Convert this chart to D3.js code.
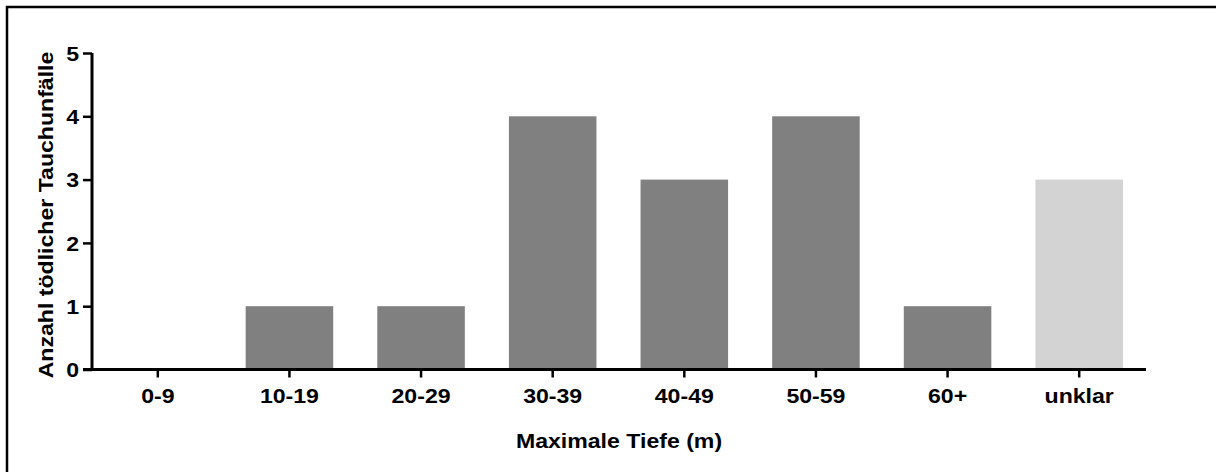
<!DOCTYPE html>
<html>
<head>
<meta charset="utf-8">
<script src="https://cdn.jsdelivr.net/npm/d3@7"></script>
<style>
  html, body { margin: 0; padding: 0; background: #fff; }
  svg { display: block; }
  text { font-family: "Liberation Sans", Arial, sans-serif; font-weight: bold; fill: #000; }
</style>
</head>
<body>
<svg id="chart" width="1216" height="472"></svg>
<script>
// Fatal diving accidents by maximum depth
const categories = ["0-9", "10-19", "20-29", "30-39", "40-49", "50-59", "60+", "unklar"];
const counts = [0, 1, 1, 4, 3, 4, 1, 3];
const barColors = ["#808080", "#808080", "#808080", "#808080", "#808080", "#808080", "#808080", "#d3d3d3"];
const yTicks = [0, 1, 2, 3, 4, 5];
const xTitle = "Maximale Tiefe (m)";
const yTitle = "Anzahl tödlicher Tauchunfälle";

const svg = d3.select("#chart");
const fontSize = 21;
const stretch = 1.1; // horizontal widening of the lettering

// frame lines (top and left)
svg.append("line").attr("x1", 6).attr("x2", 1216).attr("y1", 7).attr("y2", 7)
  .attr("stroke", "#000").attr("stroke-width", 2.5);
svg.append("line").attr("x1", 7).attr("x2", 7).attr("y1", 6).attr("y2", 472)
  .attr("stroke", "#000").attr("stroke-width", 2.5);

const x = d3.scaleBand().domain(categories).range([92, 1145])
  .paddingInner(0.335).paddingOuter(0.1675);
const y = d3.scaleLinear().domain([0, 5]).range([369.5, 53]);

// bars
svg.append("g").selectAll("rect").data(categories).join("rect")
  .attr("x", d => x(d))
  .attr("width", x.bandwidth())
  .attr("y", (d, i) => y(counts[i]))
  .attr("height", (d, i) => y(0) - y(counts[i]))
  .attr("fill", (d, i) => barColors[i]);

// y axis
const yAxis = svg.append("g").attr("transform", "translate(92,0)")
  .call(d3.axisLeft(y).tickValues(yTicks).tickFormat(d3.format("d")).tickSize(9).tickPadding(4));
yAxis.select(".domain").attr("d", `M0,${y(5)}V${y(0)}`).attr("stroke-width", 3);
yAxis.selectAll(".tick line").attr("stroke-width", 2.5);
yAxis.selectAll(".tick text")
  .attr("font-size", fontSize)
  .attr("dy", "0.35em")
  .attr("transform", `scale(${stretch},1)`)
  .attr("x", -13 / stretch);

// x axis
const xAxis = svg.append("g").attr("transform", `translate(0,${y(0)})`)
  .call(d3.axisBottom(x).tickSize(8).tickPadding(8));
xAxis.select(".domain").attr("d", "M83,0H1146").attr("stroke-width", 3);
xAxis.selectAll(".tick line").attr("stroke-width", 2.5);
xAxis.selectAll(".tick text")
  .attr("font-size", fontSize)
  .attr("dy", null)
  .attr("y", 33.5)
  .attr("transform", `scale(${stretch},1)`);

// axis titles
svg.append("text")
  .attr("transform", `translate(619,448) scale(${stretch},1)`)
  .attr("text-anchor", "middle")
  .attr("font-size", fontSize)
  .text(xTitle);

svg.append("text")
  .attr("transform", `translate(53,215) rotate(-90) scale(${stretch},1)`)
  .attr("text-anchor", "middle")
  .attr("font-size", fontSize)
  .text(yTitle);
</script>
</body>
</html>
